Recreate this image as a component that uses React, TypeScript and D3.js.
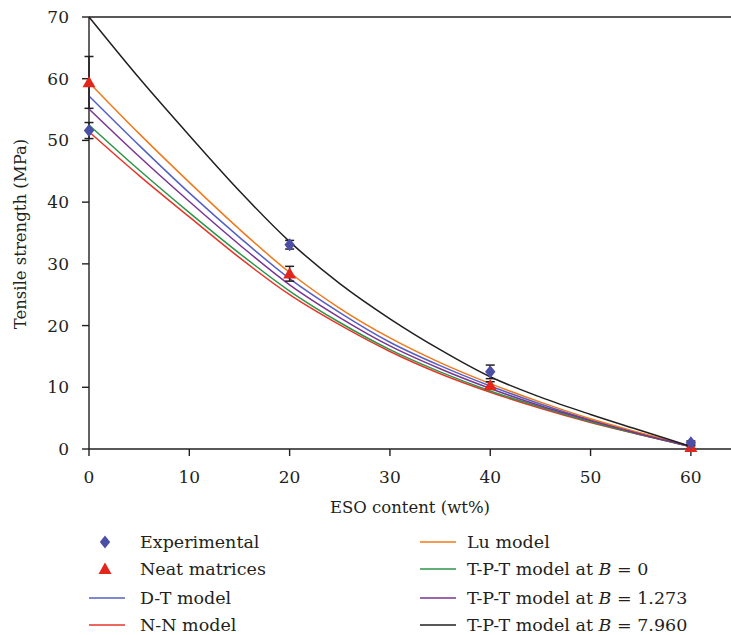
import * as d3 from "d3";

// ESO content (wt%) sample points
const xs = [0, 5, 10, 15, 20, 25, 30, 35, 40, 45, 50, 55, 60];

// model curves
const dtModel = [57.2, 49.2, 41.5, 34.3, 27.6, 22.1, 17.3, 13.5, 10.2, 7.3, 4.7, 2.5, 0.4];
const nnModel = [51.4, 44.3, 37.6, 31.0, 25.0, 20.1, 15.8, 12.2, 9.2, 6.6, 4.3, 2.3, 0.4];
const luModel = [59.4, 51.1, 43.2, 35.6, 28.6, 22.8, 18.0, 14.0, 10.6, 7.6, 4.9, 2.6, 0.4];
const tptB0 = [52.5, 45.2, 38.3, 31.7, 25.6, 20.5, 16.1, 12.5, 9.4, 6.8, 4.4, 2.3, 0.4];
const tptB1273 = [55.1, 47.4, 40.1, 33.1, 26.6, 21.3, 16.7, 13.0, 9.8, 7.0, 4.6, 2.4, 0.4];
const tptB7960 = [70.0, 60.1, 50.8, 41.8, 33.6, 26.8, 21.1, 16.1, 11.7, 8.4, 5.6, 3.0, 0.4];

// measured points
const sampleX = [0, 20, 40, 60];
const experimental = [51.6, 33.1, 12.5, 1.0];
const experimentalErr = [1.3, 0.7, 1.1, 0.3];
const neat = [59.4, 28.4, 10.3, 0.3];
const neatErr = [4.2, 1.2, 0.6, 0.2];

const xTicks = [0, 10, 20, 30, 40, 50, 60];
const yTicks = [0, 10, 20, 30, 40, 50, 60, 70];

const models = [
  { name: "D-T model", values: dtModel, color: "#5560c4" },
  { name: "N-N model", values: nnModel, color: "#e8352a" },
  { name: "Lu model", values: luModel, color: "#f07818" },
  { name: "T-P-T model at B = 0", values: tptB0, color: "#2e9448" },
  { name: "T-P-T model at B = 1.273", values: tptB1273, color: "#7a3590" },
  { name: "T-P-T model at B = 7.960", values: tptB7960, color: "#231f20" },
];

const font = "DejaVu Serif, serif";
const axisColor = "#231f20";

function Diamond({ x, y, r, color }: { x: number; y: number; r: number; color: string }) {
  return <path d={`M${x},${y - r}L${x + r * 0.8},${y}L${x},${y + r}L${x - r * 0.8},${y}Z`} fill={color} />;
}

function Triangle({ x, y, r, color }: { x: number; y: number; r: number; color: string }) {
  return <path d={`M${x},${y - r}L${x + r},${y + r * 0.75}L${x - r},${y + r * 0.75}Z`} fill={color} />;
}

function LegendLabel({ text, x, y }: { text: string; x: number; y: number }) {
  const m = text.match(/^(.*at )B( = .*)$/);
  return (
    <text x={x} y={y} fontSize={17.5} fill={axisColor} style={{ fontFamily: font }}>
      {m ? (
        <>
          {m[1]}
          <tspan fontStyle="italic">B</tspan>
          {m[2]}
        </>
      ) : (
        text
      )}
    </text>
  );
}

export default function App() {
  const x = d3.scaleLinear().domain([0, 64]).range([89, 731]);
  const y = d3.scaleLinear().domain([0, 70]).range([449, 17]);

  const line = d3
    .line<number>()
    .x((_, i) => x(xs[i]))
    .y((d) => y(d))
    .curve(d3.curveMonotoneX);

  const capW = 4.5;

  const errorBars = (vals: number[], errs: number[]) =>
    vals.map((v, i) => {
      const cx = x(sampleX[i]);
      const top = y(v + errs[i]);
      const bot = y(v - errs[i]);
      return (
        <g key={i} stroke={axisColor} strokeWidth={1.5}>
          <line x1={cx} x2={cx} y1={top} y2={bot} />
          <line x1={cx - capW} x2={cx + capW} y1={top} y2={top} />
          <line x1={cx - capW} x2={cx + capW} y1={bot} y2={bot} />
        </g>
      );
    });

  const rows = [542, 569, 598, 625];

  return (
    <svg width={731} height={635} style={{ position: "absolute", left: 0, top: 0, background: "#fff" }}>
      {/* frame */}
      <g stroke={axisColor} strokeWidth={1.4} fill="none">
        <line x1={x(0)} x2={x(0)} y1={y(0)} y2={y(70)} />
        <line x1={x(0)} x2={731} y1={y(0)} y2={y(0)} />
        <line x1={x(0)} x2={731} y1={y(70)} y2={y(70)} />
        {yTicks.map((t) => (
          <line key={t} x1={x(0) - 7} x2={x(0)} y1={y(t)} y2={y(t)} />
        ))}
        {xTicks.map((t) => (
          <line key={t} x1={x(t)} x2={x(t)} y1={y(0)} y2={y(0) + 7} />
        ))}
      </g>

      {yTicks.map((t) => (
        <text key={t} x={69} y={y(t) + 6} textAnchor="end" fontSize={17} fill={axisColor} style={{ fontFamily: font }}>
          {t}
        </text>
      ))}
      {xTicks.map((t) => (
        <text key={t} x={x(t)} y={483} textAnchor="middle" fontSize={17} fill={axisColor} style={{ fontFamily: font }}>
          {t}
        </text>
      ))}

      <text
        transform={`translate(26,${234}) rotate(-90)`}
        textAnchor="middle"
        fontSize={16.5}
        fill={axisColor}
        style={{ fontFamily: font }}
      >
        Tensile strength (MPa)
      </text>
      <text x={410} y={513} textAnchor="middle" fontSize={16.5} fill={axisColor} style={{ fontFamily: font }}>
        ESO content (wt%)
      </text>

      {/* model curves */}
      {models.map((m) => (
        <path key={m.name} d={line(m.values) ?? ""} fill="none" stroke={m.color} strokeWidth={1.5} />
      ))}

      {errorBars(experimental, experimentalErr)}
      {errorBars(neat, neatErr)}

      {neat.map((v, i) => (
        <Triangle key={i} x={x(sampleX[i])} y={y(v)} r={6.5} color="#e2261c" />
      ))}
      {experimental.map((v, i) => (
        <Diamond key={i} x={x(sampleX[i])} y={y(v)} r={6.5} color="#4c4fa6" />
      ))}

      {/* legend */}
      <Diamond x={105} y={rows[0]} r={6.5} color="#4c4fa6" />
      <LegendLabel text="Experimental" x={140} y={rows[0] + 6} />
      <Triangle x={105} y={rows[1]} r={6.5} color="#e2261c" />
      <LegendLabel text="Neat matrices" x={140} y={rows[1] + 6} />
      {models.slice(0, 2).map((m, i) => (
        <g key={m.name}>
          <line x1={89} x2={125} y1={rows[i + 2]} y2={rows[i + 2]} stroke={m.color} strokeWidth={1.5} />
          <LegendLabel text={m.name} x={140} y={rows[i + 2] + 6} />
        </g>
      ))}
      {models.slice(2).map((m, i) => (
        <g key={m.name}>
          <line x1={420} x2={456} y1={rows[i]} y2={rows[i]} stroke={m.color} strokeWidth={1.5} />
          <LegendLabel text={m.name} x={467} y={rows[i] + 6} />
        </g>
      ))}
    </svg>
  );
}
